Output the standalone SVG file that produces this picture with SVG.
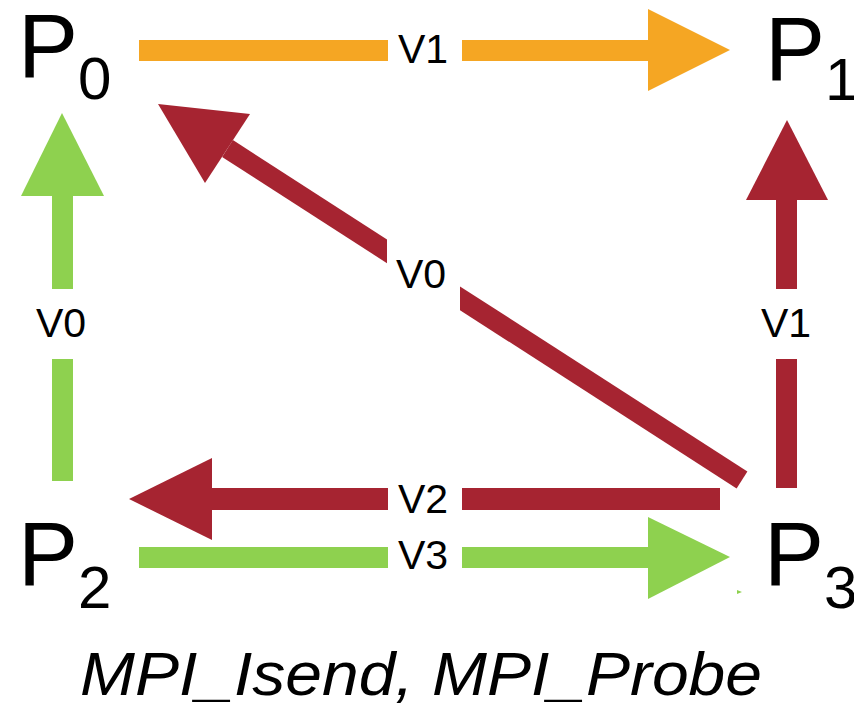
<svg xmlns="http://www.w3.org/2000/svg" width="854" height="709" viewBox="0 0 854 709">
<style>
.node{font-family:"Liberation Sans",Arial,sans-serif;fill:#000}
.lbl{font-family:"Liberation Sans",Arial,sans-serif;font-size:41px;fill:#000;text-anchor:middle}
.o{fill:#F5A623}.r{fill:#A62431}.g{fill:#8ED14F}
.title{font-family:"Liberation Sans",Arial,sans-serif;font-style:italic;font-size:62px;fill:#000}
</style>
<rect width="854" height="709" fill="#fff"/>
<g id="connectors">
  <g id="e-p0-p1">
    <rect class="o" x="139" y="40" width="249" height="21"/>
    <rect class="o" x="462" y="40" width="187" height="21"/>
    <polygon class="o" points="648,9 730,50 648,91"/>
    <text class="lbl" x="423" y="63">V1</text>
  </g>
  <g id="e-p2-p0">
    <rect class="g" x="52" y="195" width="21" height="94"/>
    <rect class="g" x="52" y="359" width="21" height="122"/>
    <polygon class="g" points="21,196 62,113 104,196"/>
    <text class="lbl" x="61" y="337">V0</text>
  </g>
  <g id="e-p3-p1">
    <rect class="r" x="776" y="199" width="21" height="90"/>
    <rect class="r" x="776" y="359" width="21" height="129"/>
    <polygon class="r" points="746,200 787,120 828,200"/>
    <text class="lbl" x="786" y="337">V1</text>
  </g>
  <g id="e-p3-p0">
    <polygon class="r" points="232.9,140.1 387,239.4 387,263.2 222.1,156.9"/>
    <polygon class="r" points="460,286.4 747.4,471.6 736.6,488.4 460,310.2"/>
    <polygon class="r" points="158,104 250,114 205,183"/>
    <text class="lbl" x="421" y="288">V0</text>
  </g>
  <g id="e-p3-p2">
    <rect class="r" x="211" y="488" width="177" height="22"/>
    <rect class="r" x="462" y="488" width="258" height="22"/>
    <polygon class="r" points="212,458 129,499 212,540"/>
    <text class="lbl" x="423" y="513">V2</text>
  </g>
  <g id="e-p2-p3">
    <rect class="g" x="139" y="547" width="249" height="21"/>
    <rect class="g" x="462" y="547" width="187" height="21"/>
    <polygon class="g" points="648,517 730,557 648,599"/>
    <polygon class="g" points="737,590 742,592 737,594"/>
    <text class="lbl" x="423" y="569">V3</text>
  </g>
</g>
<g id="P0"><text class="node" x="18" y="77" font-size="90">P<tspan font-size="60" dy="22">0</tspan></text></g>
<g id="P1"><text class="node" x="765" y="80" font-size="90">P<tspan font-size="60" dy="20">1</tspan></text></g>
<g id="P2"><text class="node" x="18" y="585" font-size="90">P<tspan font-size="60" dy="23">2</tspan></text></g>
<g id="P3"><text class="node" x="764" y="585" font-size="90">P<tspan font-size="60" dy="23">3</tspan></text></g>
<g id="caption"><text class="title" x="80" y="695" textLength="682" lengthAdjust="spacingAndGlyphs">MPI_Isend, MPI_Probe</text></g>
</svg>
